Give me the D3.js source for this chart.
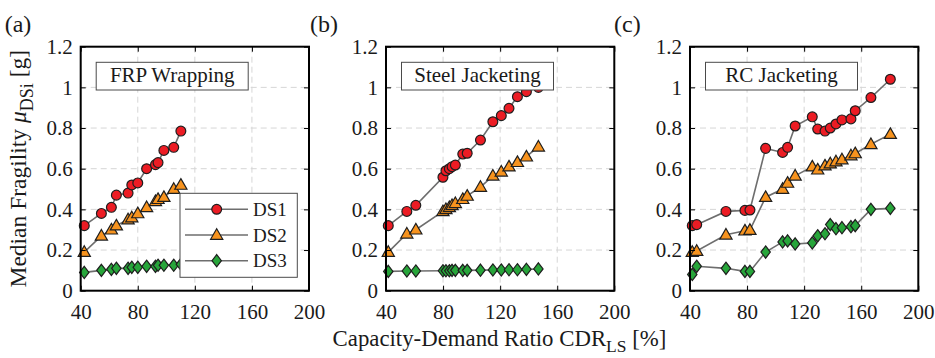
<!DOCTYPE html>
<html>
<head>
<meta charset="utf-8">
<script src="https://cdn.jsdelivr.net/npm/d3@7"></script>
<style>
  body { margin: 0; background: #fff; }
  svg { display: block; }
</style>
</head>
<body>
<svg id="chart" width="935" height="358" font-family="Liberation Serif, Times New Roman, serif"></svg>
<script>
// Axis ticks shared by the three panels
const xTicks = [40, 80, 120, 160, 200];
const yTicks = [0, 0.2, 0.4, 0.6, 0.8, 1, 1.2];
const yTickLabels = ["0", "0.2", "0.4", "0.6", "0.8", "1", "1.2"];

const seriesNames = ["DS1", "DS2", "DS3"];
const panelLetters = ["(a)", "(b)", "(c)"];
const panelTitles = ["FRP Wrapping", "Steel Jacketing", "RC Jacketing"];

// (a) FRP wrapping: CDR_LS [%] and median fragility [g]
const frpCDR = [42.5, 54.5, 61.5, 65, 73.2, 75.8, 80, 86.2, 92.4, 94.2, 98.3, 105.2, 110.2];
const frpDS1 = [0.32, 0.38, 0.41, 0.47, 0.48, 0.52, 0.53, 0.60, 0.62, 0.63, 0.69, 0.705, 0.785];
const frpDS2 = [0.19, 0.27, 0.30, 0.32, 0.35, 0.36, 0.38, 0.41, 0.44, 0.45, 0.46, 0.50, 0.52];
const frpDS3 = [0.09, 0.10, 0.105, 0.11, 0.11, 0.115, 0.115, 0.12, 0.12, 0.125, 0.125, 0.125, 0.13];

// (b) Steel jacketing
const steelCDR = [41.6, 54.6, 60.9, 79.9, 82, 84.4, 86.3, 88.6, 93.8, 96.9, 106.2, 114.9, 120.8, 126.2, 132.1, 138.4, 146.8];
const steelDS1 = [0.32, 0.39, 0.42, 0.558, 0.59, 0.60, 0.61, 0.618, 0.672, 0.676, 0.741, 0.831, 0.861, 0.897, 0.954, 0.979, 1.0];
const steelDS2 = [0.19, 0.28, 0.30, 0.39, 0.40, 0.41, 0.42, 0.43, 0.45, 0.466, 0.51, 0.565, 0.585, 0.61, 0.632, 0.659, 0.708];
const steelDS3 = [0.095, 0.097, 0.097, 0.098, 0.098, 0.098, 0.1, 0.1, 0.1, 0.1, 0.101, 0.102, 0.102, 0.103, 0.103, 0.105, 0.107];

// (c) RC jacketing
const rcCDR = [41.6, 44.7, 65.2, 78.5, 82, 93, 104.9, 108.4, 113.7, 125.7, 129.5, 134.6, 138.3, 142.3, 146.5, 152.8, 155.8, 166.8, 180.4];
const rcDS1 = [0.32, 0.325, 0.39, 0.395, 0.397, 0.70, 0.68, 0.705, 0.81, 0.855, 0.795, 0.785, 0.80, 0.82, 0.84, 0.845, 0.885, 0.95, 1.04];
const rcDS2 = [0.19, 0.195, 0.275, 0.295, 0.298, 0.46, 0.50, 0.53, 0.565, 0.61, 0.595, 0.615, 0.625, 0.635, 0.645, 0.665, 0.675, 0.72, 0.77];
const rcDS3 = [0.08, 0.12, 0.11, 0.095, 0.095, 0.19, 0.24, 0.245, 0.23, 0.235, 0.27, 0.28, 0.325, 0.305, 0.31, 0.315, 0.32, 0.40, 0.405];

const panels = [
  { cdr: frpCDR, series: [frpDS1, frpDS2, frpDS3] },
  { cdr: steelCDR, series: [steelDS1, steelDS2, steelDS3] },
  { cdr: rcCDR, series: [rcDS1, rcDS2, rcDS3] }
];

// Marker styling per damage state
const markerFill = ["#ec1c24", "#f7931e", "#27a53a"];
const markerShape = [
  d3.symbol().type(d3.symbolCircle).size(76)(),
  "M0,-6.3L6.1,4.3L-6.1,4.3Z",
  "M0,-6.1L4.7,0L0,6.1L-4.7,0Z"
];

const SERIF = "'Liberation Serif', 'Times New Roman', serif";
const INK = "#1a1a1a";

const svg = d3.select("#chart");

const plotTop = 46.7, plotBottom = 290.7, plotW = 228.3;
const plotH = plotBottom - plotTop;
const lefts = [80.7, 386, 690];
const tickFont = 21;

const x = d3.scaleLinear().domain([40, 200]).range([0, plotW]);
const y = d3.scaleLinear().domain([0, 1.2]).range([plotH, 0]);

const line = d3.line().x(d => x(d[0])).y(d => y(d[1]));

// text helper: serif face set inline on every label
const label = (parent, size) => parent.append("text")
  .style("font-family", SERIF).style("font-size", size + "px").attr("fill", INK);

panels.forEach((p, i) => {
  const g = svg.append("g").attr("transform", `translate(${lefts[i]},${plotTop})`);

  // dashed grid
  const grid = g.append("g").attr("stroke", "#d6d6d6").attr("stroke-width", 1).attr("stroke-dasharray", "6,4");
  grid.selectAll("line.gx").data(xTicks.slice(1, -1)).join("line")
    .attr("x1", d => x(d)).attr("x2", d => x(d)).attr("y1", 0).attr("y2", plotH);
  grid.selectAll("line.gy").data(yTicks.slice(1, -1)).join("line")
    .attr("x1", 0).attr("x2", plotW).attr("y1", d => y(d)).attr("y2", d => y(d));

  // series lines and markers (DS3 first so DS1 sits on top)
  [2, 1, 0].forEach(s => {
    const pts = p.cdr.map((c, k) => [c, p.series[s][k]]);
    g.append("path").datum(pts)
      .attr("fill", "none").attr("stroke", "#6e6e6e").attr("stroke-width", 1.6)
      .attr("d", line);
    g.append("g").selectAll("path").data(pts).join("path")
      .attr("transform", d => `translate(${x(d[0])},${y(d[1])})`)
      .attr("d", markerShape[s])
      .attr("fill", markerFill[s]).attr("stroke", "#1e1e1e").attr("stroke-width", 1.2);
  });

  // axes with inward ticks on all four sides
  const styleAxis = sel => {
    sel.attr("font-family", SERIF).attr("font-size", tickFont);
    sel.select(".domain").remove();
    sel.selectAll(".tick line").attr("stroke", "#000").attr("stroke-width", 1);
    sel.selectAll(".tick text")
      .style("font-family", SERIF).style("font-size", tickFont + "px").attr("fill", INK);
  };
  g.append("g").attr("transform", `translate(0,${plotH})`)
    .call(d3.axisBottom(x).tickValues(xTicks).tickSize(-5).tickPadding(13).tickFormat(d3.format("d")))
    .call(styleAxis);
  g.append("g")
    .call(d3.axisLeft(y).tickValues(yTicks).tickSize(-5).tickPadding(8).tickFormat((d, k) => yTickLabels[k]))
    .call(styleAxis);
  g.append("g")
    .call(d3.axisTop(x).tickValues(xTicks).tickSize(-5).tickFormat(""))
    .call(styleAxis);
  g.append("g").attr("transform", `translate(${plotW},0)`)
    .call(d3.axisRight(y).tickValues(yTicks).tickSize(-5).tickFormat(""))
    .call(styleAxis);

  // frame
  g.append("rect").attr("width", plotW).attr("height", plotH)
    .attr("fill", "none").attr("stroke", "#000").attr("stroke-width", 2);

  // retrofit title box
  const bx = 15.5, by = 15.6, bw = 152, bh = 27.7;
  g.append("rect").attr("x", bx).attr("y", by).attr("width", bw).attr("height", bh)
    .attr("fill", "#fff").attr("stroke", "#4a4a4a").attr("stroke-width", 1);
  label(g, 21).attr("x", bx + bw / 2).attr("y", by + 20.2)
    .attr("text-anchor", "middle").text(panelTitles[i]);

  // panel letter
  label(svg, 24).attr("x", lefts[i] - 76).attr("y", 32).text(panelLetters[i]);
});

// legend inside panel (a)
{
  const lg = svg.append("g").attr("transform", `translate(${lefts[0]},${plotTop})`);
  const lx = 99.3, ly = 146.6, lw = 117.3, lh = 84;
  lg.append("rect").attr("x", lx).attr("y", ly).attr("width", lw).attr("height", lh)
    .attr("fill", "#fff").attr("stroke", "#4a4a4a").attr("stroke-width", 1);
  seriesNames.forEach((name, s) => {
    const cy = ly + 16 + s * 25.7;
    lg.append("line").attr("x1", lx + 5).attr("x2", lx + 68).attr("y1", cy).attr("y2", cy)
      .attr("stroke", "#6e6e6e").attr("stroke-width", 1.6);
    lg.append("path").attr("transform", `translate(${lx + 36.7},${cy})`)
      .attr("d", markerShape[s]).attr("fill", markerFill[s])
      .attr("stroke", "#1e1e1e").attr("stroke-width", 1.2);
    label(lg, 19).attr("x", lx + 73).attr("y", cy + 6.6).text(name);
  });
}

// shared axis titles
const xLab = label(svg, 22.8).attr("x", (lefts[0] + lefts[2] + plotW) / 2).attr("y", 346)
  .attr("text-anchor", "middle");
xLab.append("tspan").text("Capacity-Demand Ratio CDR");
xLab.append("tspan").style("font-size", "17.5px").attr("dy", 6).text("LS");
xLab.append("tspan").attr("dy", -6).text(" [%]");

const yLab = label(svg, 23.5)
  .attr("transform", `translate(25.5,${(plotTop + plotBottom) / 2}) rotate(-90)`)
  .attr("text-anchor", "middle");
yLab.append("tspan").text("Median Fragility ");
yLab.append("tspan").style("font-style", "italic").text("μ");
yLab.append("tspan").style("font-size", "18px").attr("dy", 7).text("DSi");
yLab.append("tspan").attr("dy", -7).text(" [g]");
</script>
</body>
</html>
